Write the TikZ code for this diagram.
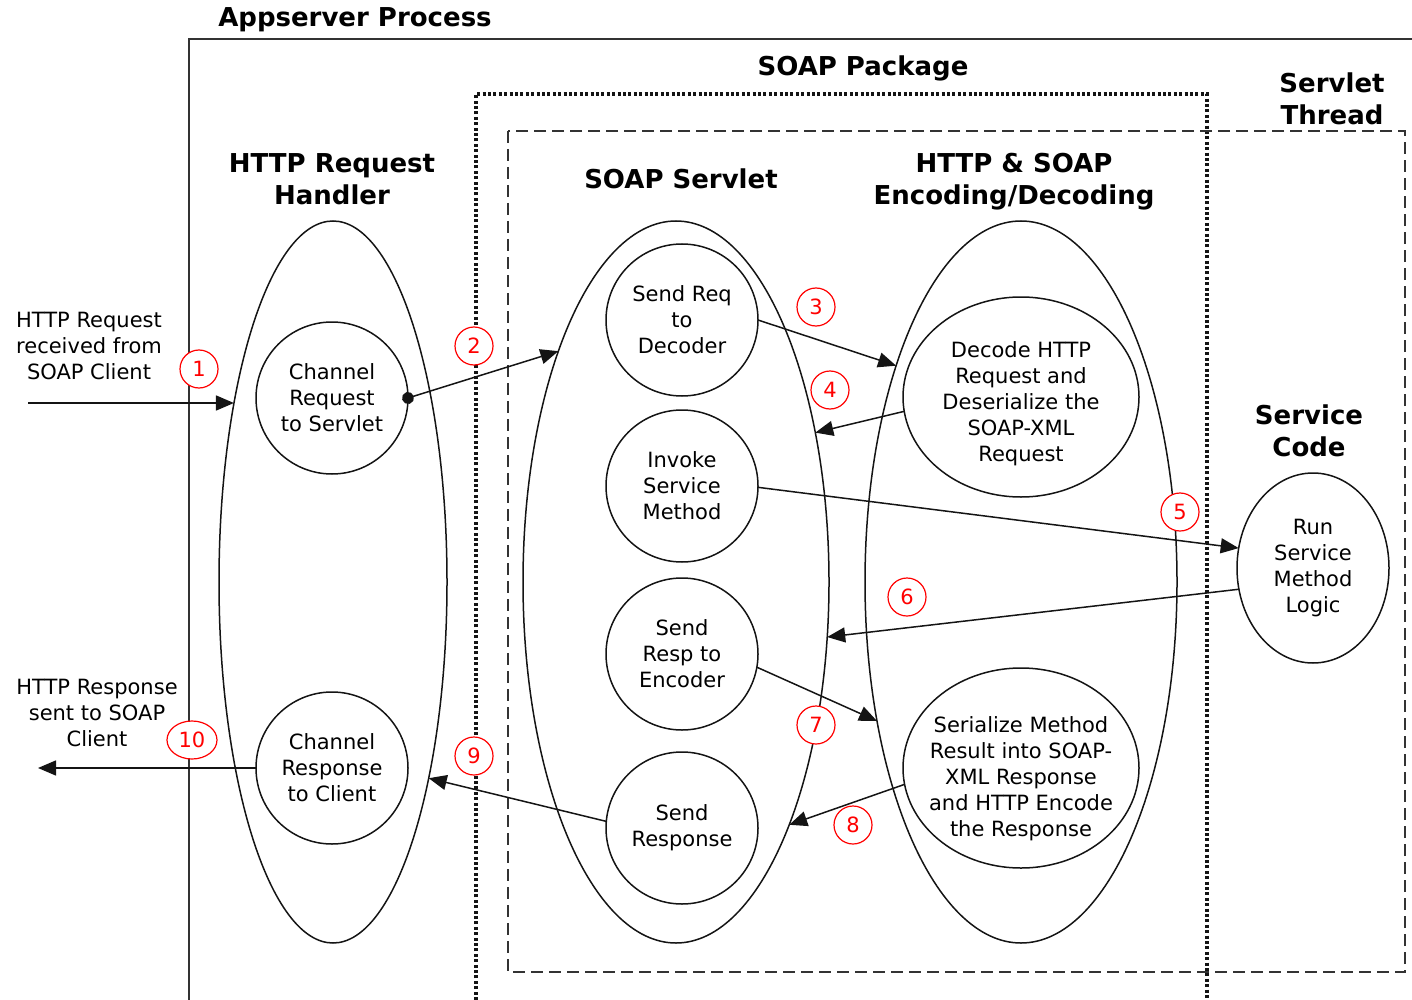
\documentclass[tikz,border=0pt]{standalone}
\usepackage{fontspec}
\setmainfont{DejaVu Sans}
\usetikzlibrary{arrows.meta,positioning,shapes.geometric}
\definecolor{SoapInk}{HTML}{141414}
\definecolor{SoapFrame}{HTML}{333333}
\definecolor{SoapRed}{HTML}{FF0000}

\begin{document}
\begin{tikzpicture}[x=.5pt,y=-.5pt]
\tikzset{g/.style={ellipse,draw=SoapInk,line width=.75pt,inner sep=0pt,outer sep=0pt,minimum height=361pt},
s/.style={circle,draw=SoapInk,line width=.75pt,minimum size=76pt,inner sep=0pt,outer sep=0pt,align=center,font=\fontsize{10.5}{13}\selectfont},
h/.style={align=center,font=\fontsize{13}{16}\selectfont\bfseries},
w/.style={align=center,font=\fontsize{10.5}{13}\selectfont},
m/.style={circle,draw=SoapRed,fill=white,text=SoapRed,line width=.6pt,minimum size=19pt,inner sep=0pt,font=\fontsize{10.5}{13}\selectfont},
a/.style={-{Triangle[length=9pt,width=7.5pt]},draw=SoapInk,line width=.75pt}}
\useasboundingbox (0,0) rectangle (1412,1000);
% frames
\draw[SoapFrame,line width=1pt] (189,1000) -- (189,39) -- (1412,39);
\draw[SoapInk,line width=1.7pt,dash pattern=on 1.5pt off 1.2pt] (476,1000) -- (476,94) -- (1207,94) -- (1207,1000);
\draw[SoapFrame,line width=.85pt,dash pattern=on 6pt off 3pt] (508,131) rectangle (1405,972);
\node[h] (tapp) at (355,20) {Appserver Process};
\node[h] (tpkg) at (863,68) {SOAP Package};
\node[h] (tthr) at (1332,99) {Servlet\\Thread};
% groups
\node[g,minimum width=114pt] (hdl) at (333,582) {};
\node[g,minimum width=153pt] (svl) at (676,582) {};
\node[g,minimum width=156pt] (cod) at (1021,582) {};
\node[h] (thdl) at (332,179) {HTTP Request\\Handler};
\node[h] (tsvl) at (681,179) {SOAP Servlet};
\node[h] (tcod) at (1014,182) {HTTP \& SOAP\\Encoding/Decoding};
\node[h] (tsvc) at (1309,431) {Service\\Code};
% steps
\node[s] (chreq) at (332,398) {Channel\\Request\\to Servlet};
\node[s] (chres) at (332,768) {Channel\\Response\\to Client};
\node[s] (sreq) at (682,320) {Send Req\\to\\Decoder};
\node[s] (inv) at (682,486) {Invoke\\Service\\Method};
\node[s] (sres) at (682,654) {Send\\Resp to\\Encoder};
\node[s] (send) at (682,828) {Send\\Response};
\node[s,ellipse,inner sep=-20pt,minimum width=118pt,minimum height=100pt] (dec) at (1021,397) {\rule{0pt}{15pt}Decode HTTP\\Request and\\Deserialize the\\SOAP-XML\\Request};
\node[s,ellipse,inner sep=-20pt,minimum width=118pt,minimum height=100pt] (ser) at (1021,768) {\rule{0pt}{19pt}Serialize Method\\Result into SOAP-\\XML Response\\and HTTP Encode\\the Response};
\node[s,ellipse,minimum width=76pt,minimum height=95pt] (run) at (1313,568) {Run\\Service\\Method\\Logic};
% outside
\node[w] (lin) at (89,346) {HTTP Request\\received from\\SOAP Client};
\node[w] (lout) at (97,713) {HTTP Response\\sent to SOAP\\Client};
\coordinate (cin) at (28,403);
\coordinate (cout) at (38,768);
% flow
\draw[a] (cin) -- (cin -| hdl.119);
\draw[a,{Circle[length=6pt]}-{Triangle[length=9pt,width=7.5pt]},shorten <=-3pt] (chreq.east) -- (svl.117);
\draw[a] (sreq.east) -- (cod.120);
\draw[a] (dec.187) -- (svl.47);
\draw[a] (inv.359) -- (run.165);
\draw[a] (run.196) -- (svl.340);
\draw[a] (sres.350) -- (cod.224);
\draw[a] (ser.188) -- (svl.295.5);
\draw[a] (send.175) -- (hdl.296);
\draw[a] (chres.west) -- (cout);
% numbers
\node[m] (n1) at (199,369) {1};
\node[m] (n2) at (474,346) {2};
\node[m] (n3) at (816,307) {3};
\node[m] (n4) at (830,390) {4};
\node[m] (n5) at (1180,512) {5};
\node[m] (n6) at (907,597) {6};
\node[m] (n7) at (816,725) {7};
\node[m] (n8) at (853,825) {8};
\node[m] (n9) at (474,756) {9};
\node[m,ellipse,minimum width=25pt] (n10) at (192,740) {10};
\end{tikzpicture}
\end{document}
